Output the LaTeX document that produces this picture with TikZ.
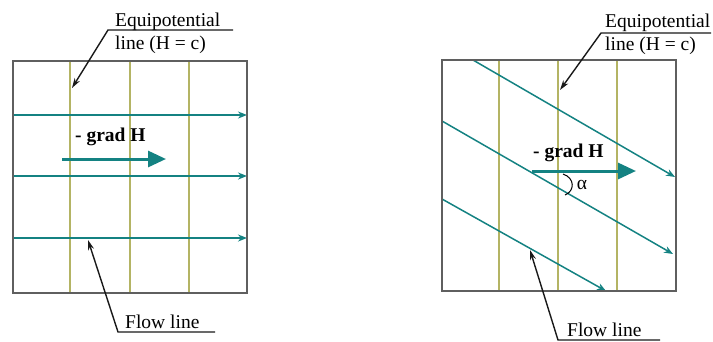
\documentclass[tikz,border=0pt]{standalone}
\usepackage{fontspec}
\setmainfont{Liberation Serif}
\usetikzlibrary{arrows.meta,calc}
\definecolor{colFlow}{RGB}{20,130,130}
\definecolor{colEquip}{RGB}{180,180,100}
\definecolor{colFrame}{RGB}{95,95,95}
\tikzset{
  frame/.style   = {draw=colFrame, line width=1.8pt},
  eqline/.style  = {draw=colEquip, line width=1.3pt},
  flowarr/.style = {-{Stealth[length=9pt,width=7pt]}, line width=1.5pt, draw=colFlow},
  gradarr/.style = {-{Triangle[length=18pt,width=16pt]}, line width=3pt, draw=colFlow},
  leadarr/.style = {-{Stealth[length=10pt,width=6pt]}, line width=1.4pt, draw=black!90},
  lbl/.style     = {font=\fontsize{19.5}{23}\selectfont, inner sep=0pt, align=left},
  glbl/.style    = {font=\fontsize{19.5}{23}\selectfont\bfseries, inner sep=0pt},
}

\begin{document}
\begin{tikzpicture}[x=1pt, y=-1pt]
\useasboundingbox (0,0) rectangle (713,341);

%% Left panel: uniform flow
\foreach \xx in {70,130,189}
  \draw[eqline] (\xx,61) -- (\xx,293);
\foreach \yy in {115,176,238}
  \draw[flowarr] (13,\yy) -- (247,\yy);
\draw[frame] (13,61) rectangle (247,293);

\coordinate (gradLa) at (62,159);
\coordinate (gradLb) at (166,159);
\draw[gradarr] (gradLa) -- (gradLb);
\node[glbl, anchor=base west] (gradL) at (75,141) {- grad H};

%% Right panel: inclined flow
\foreach \xx in {499,558,617}
  \draw[eqline] (\xx,60) -- (\xx,291);
\draw[flowarr] (473,60)  -- (675,177);
\draw[flowarr] (442,121) -- (673,254);
\draw[flowarr] (442,199) -- (606,291);
\draw[frame] (442,60) rectangle (676,291);

\coordinate (gradRa) at (532,171);
\coordinate (gradRb) at (636,171);
\draw[gradarr] (gradRa) -- (gradRb);
\node[glbl, anchor=base west] (gradR) at (533,157) {- grad H};
\draw[line width=1pt] (563,174) .. controls (575,178) and (575,191) .. (565,195);
\node[lbl, anchor=center] (alpha) at (582,185) {α};

%% Labels and leaders
\node[lbl, anchor=base west] (eqL) at (115,49) {Equipotential\\line (H = c)};
\coordinate (eqLend)  at (233,30);
\coordinate (eqLknee) at (108,30);
\coordinate (eqLtip)  at (72,88);
\draw[leadarr] (eqLend) -- (eqLknee) -- (eqLtip);

\node[lbl, anchor=base west] (flowL) at (125,328) {Flow line};
\coordinate (flowLend)  at (215,332);
\coordinate (flowLknee) at (118,332);
\coordinate (flowLtip)  at (88,240);
\draw[leadarr] (flowLend) -- (flowLknee) -- (flowLtip);

\node[lbl, anchor=base west] (eqR) at (605,50) {Equipotential\\line (H = c)};
\coordinate (eqRend)  at (711,33);
\coordinate (eqRknee) at (601,33);
\coordinate (eqRtip)  at (560,90);
\draw[leadarr] (eqRend) -- (eqRknee) -- (eqRtip);

\node[lbl, anchor=base west] (flowR) at (567,336) {Flow line};
\coordinate (flowRend)  at (660,340);
\coordinate (flowRknee) at (558,340);
\coordinate (flowRtip)  at (530,250);
\draw[leadarr] (flowRend) -- (flowRknee) -- (flowRtip);

\end{tikzpicture}
\end{document}
